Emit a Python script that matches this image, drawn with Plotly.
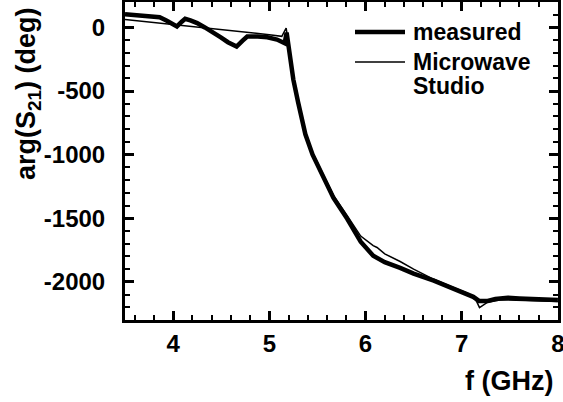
import plotly.graph_objects as go

# ---- data ----
f_meas = [3.50, 3.62, 3.76, 3.86, 3.93, 3.98, 4.04, 4.09, 4.125, 4.18, 4.25, 4.33, 4.40, 4.50,
          4.57, 4.66, 4.72, 4.77, 4.88, 4.98, 5.08, 5.13, 5.16, 5.18, 5.20, 5.25, 5.30, 5.375,
          5.45, 5.55, 5.667, 5.81, 5.95, 6.08, 6.20, 6.36, 6.50, 6.71, 6.90, 7.06, 7.12, 7.18,
          7.27, 7.35, 7.48, 7.60, 7.75, 7.96, 8.00]
phase_meas = [103, 96, 89, 81, 55, 35, 8, 45, 68, 55, 34, 0, -30, -80,
              -116, -150, -105, -71, -72, -77, -95, -110, -124, -40, -142, -410, -590, -840,
              -1000, -1157, -1340, -1505, -1684, -1795, -1845, -1890, -1935, -1990, -2045, -2095, -2118, -2150,
              -2150, -2135, -2125, -2130, -2135, -2140, -2142]

f_mws = [3.50, 3.80, 4.00, 4.20, 4.50, 4.80, 5.00, 5.13, 5.175, 5.20, 5.25, 5.30, 5.375,
         5.45, 5.55, 5.667, 5.81, 5.95, 6.08, 6.12, 6.20, 6.36, 6.50, 6.71, 6.90, 7.06, 7.14,
         7.185, 7.22, 7.27, 7.41, 7.60, 7.75, 8.00]
phase_mws = [63, 40, 24, 8, -15, -40, -57, -70, -5, -125, -395, -575, -825,
             -985, -1140, -1320, -1480, -1640, -1715, -1730, -1780, -1840, -1900, -1980, -2040, -2090, -2130,
             -2203, -2185, -2160, -2140, -2145, -2150, -2155]

series_names = ["measured", "Microwave Studio"]
legend_lines = [["measured"], ["Microwave", "Studio"]]

x_tick_vals = [4, 5, 6, 7, 8]
x_tick_labels = ["4", "5", "6", "7", "8"]
y_tick_vals = [0, -500, -1000, -1500, -2000]
y_tick_labels = ["0", "-500", "-1000", "-1500", "-2000"]

x_range = [3.5, 8.001]
y_range = [-2300, 200]

# ---- figure ----
FONT = "Liberation Sans, Arial, Helvetica, sans-serif"
W, H = 563, 402
ML, MR, MT, MB = 125, 5, 2, 82
PW, PH = W - ML - MR, H - MT - MB


def px_to_paper(px, py):
    return (px - ML) / PW, (H - MB - py) / PH


fig = go.Figure()
fig.add_trace(go.Scatter(x=f_meas, y=phase_meas, mode="lines", name=series_names[0],
                         line=dict(color="black", width=4.5), showlegend=False))
fig.add_trace(go.Scatter(x=f_mws, y=phase_mws, mode="lines", name=series_names[1],
                         line=dict(color="black", width=1.5), showlegend=False))

axis_common = dict(
    showgrid=False, zeroline=False, showline=True, linecolor="black", linewidth=3,
    mirror="ticks", ticks="inside", ticklen=9, tickwidth=3, tickcolor="black",
    automargin=False, ticklabeloverflow="allow",
    tickfont=dict(family=FONT, size=24, color="black", weight="bold"),
)
fig.update_xaxes(range=x_range, tickmode="array", tickvals=x_tick_vals, ticktext=x_tick_labels,
                 minor=dict(dtick=0.2, ticks="inside", ticklen=5, tickwidth=1.5, tickcolor="black"),
                 ticklabelstandoff=0, **axis_common)
fig.update_yaxes(range=y_range, tickmode="array", tickvals=y_tick_vals, ticktext=y_tick_labels,
                 minor=dict(dtick=100, ticks="inside", ticklen=5, tickwidth=1.5, tickcolor="black"),
                 ticklabelstandoff=12, **axis_common)

annotations = []
# axis titles
xt, yt = px_to_paper(555, 381)
annotations.append(dict(text="f (GHz)", x=xt, y=yt, xref="paper", yref="paper",
                        xanchor="right", yanchor="middle", showarrow=False,
                        font=dict(family=FONT, size=27, color="black", weight="bold")))
xt, yt = px_to_paper(28, 94)
annotations.append(dict(text="arg(S<sub>21</sub>) (deg)", x=xt, y=yt, xref="paper", yref="paper",
                        xanchor="center", yanchor="middle", textangle=-90, showarrow=False,
                        font=dict(family=FONT, size=27, color="black", weight="bold")))

# legend (drawn by hand to match the long line samples)
shapes = []
legend_rows = [(32, 4.5), (62, 1.5)]
line_y_extra = [[32], [62, 86]]
for (row_y, lw), labels, ys in zip(legend_rows, legend_lines, line_y_extra):
    x0, y0 = px_to_paper(355, row_y)
    x1, _ = px_to_paper(405, row_y)
    shapes.append(dict(type="line", xref="paper", yref="paper", x0=x0, x1=x1, y0=y0, y1=y0,
                       line=dict(color="black", width=lw)))
    for lab, ly in zip(labels, ys):
        tx, ty = px_to_paper(411, ly)
        annotations.append(dict(text=lab, x=tx, y=ty, xref="paper", yref="paper",
                                xanchor="left", yanchor="middle", showarrow=False,
                                font=dict(family=FONT, size=23, color="black", weight="bold")))

fig.update_layout(width=W, height=H, margin=dict(l=ML, r=MR, t=MT, b=MB, autoexpand=False),
                  paper_bgcolor="white", plot_bgcolor="white",
                  annotations=annotations, shapes=shapes, showlegend=False)

fig.write_html("out.html", config={"displayModeBar": False},
               post_script="document.body.style.margin='0';document.body.style.overflow='hidden';")
